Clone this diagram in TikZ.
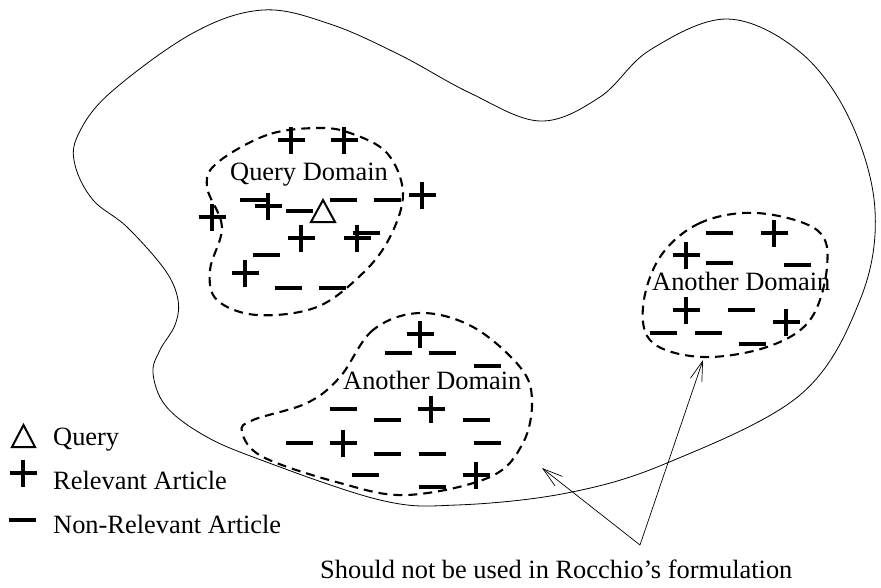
\documentclass[tikz,border=0pt]{standalone}
\usepackage{fontspec}
\setmainfont{Liberation Serif}
\usetikzlibrary{arrows.meta}
\begin{document}
\begin{tikzpicture}[x=1pt,y=-1pt,
  outercurve/.style={line width=0.8pt},
  dashblob/.style={line width=2.1pt, dash pattern=on 9pt off 6pt},
  lbl/.style={font=\fontsize{26.4}{30}\selectfont, inner sep=0pt, anchor=base west},
  plussign/.pic={\draw[line width=3.6pt] (-13.5,0)--(13.5,0) (0,-13.5)--(0,13.5);},
  minussign/.pic={\draw[line width=3.6pt] (-13.5,0)--(13.5,0);},
  ptr/.style={line width=0.7pt, -{Straight Barb[length=20pt,width=12pt]}}
]
\useasboundingbox (0,0) rectangle (881,587);

% outer region
\draw[outercurve] plot[smooth cycle, tension=0.6] coordinates {
 (263,10) (330,24) (400,55) (470,93) (540,121) (600,97) (650,50) (727,19)
 (800,52) (850,120) (875,210) (860,300) (800,395) (667,463) (567,493)
 (457,505) (380,500) (253,457) (200,433) (165,405) (153,373) (160,350)
 (175,325) (178,300) (165,270) (127,227) (93,200) (75,165) (78,135)
 (110,93) (193,33)};

% query domain blob
\draw[dashblob] plot[smooth cycle, tension=0.6] coordinates {
 (317,128) (267,135) (217,163) (207,187) (222,227) (210,270) (217,300)
 (257,315) (317,307) (363,273) (390,237) (403,193) (387,153) (350,133)};

% middle domain blob
\draw[dashblob] plot[smooth cycle, tension=0.6] coordinates {
 (420,313) (373,330) (340,377) (307,403) (253,420) (242,432) (263,457)
 (340,483) (407,495) (490,477) (523,443) (532,400) (520,367) (473,327)};

% right domain blob
\draw[dashblob] plot[smooth cycle, tension=0.6] coordinates {
 (757,213) (700,223) (660,257) (643,307) (653,343) (703,357) (767,347)
 (810,320) (827,267) (817,230)};

% labels
\node[lbl] (qd) at (230,180) {Query Domain};
\node[lbl] (ad1) at (343,389) {Another Domain};
\node[lbl] (ad2) at (652,290) {Another Domain};

% query domain signs
\foreach \p in {(291,140),(344,140),(268,206),(422,195),(212,217),(301,238),(357,238),(245,273)}
  \pic at \p {plussign};
\foreach \p in {(253,200),(299,211),(343,200),(387,200),(366,233),(266,255),(288,288),(332,288)}
  \pic at \p {minussign};
\draw[line width=2pt, line join=miter] (311,222) -- (323,200) -- (335,222) -- cycle;

% middle domain signs
\foreach \p in {(420,334),(431,409),(343,443),(476,475)}
  \pic at \p {plussign};
\foreach \p in {(398,353),(442,353),(487,366),(343,409),(387,420),(476,420),(299,443),(387,454),(432,454),(487,443),(365,475),(432,487)}
  \pic at \p {minussign};

% right domain signs
\foreach \p in {(774,233),(686,255),(686,310),(786,322)}
  \pic at \p {plussign};
\foreach \p in {(719,233),(719,263),(797,265),(741,310),(663,333),(708,333),(752,344)}
  \pic at \p {minussign};

% legend
\draw[line width=2pt, line join=miter] (12,447) -- (23.5,425) -- (35,447) -- cycle;
\node[lbl] (lq) at (53,445) {Query};
\pic at (23,473) {plussign};
\node[lbl] (lr) at (53,489) {Relevant Article};
\pic at (22,520) {minussign};
\node[lbl] (ln) at (53,533) {Non-Relevant Article};

% note and pointers
\node[lbl] (note) at (320,578) {Should not be used in Rocchio’s formulation};
\coordinate (src) at (640,545);
\coordinate (tipa) at (542,468);
\coordinate (tipb) at (703,360);
\draw[ptr] (src) -- (tipa);
\draw[ptr] (src) -- (tipb);
\end{tikzpicture}
\end{document}
